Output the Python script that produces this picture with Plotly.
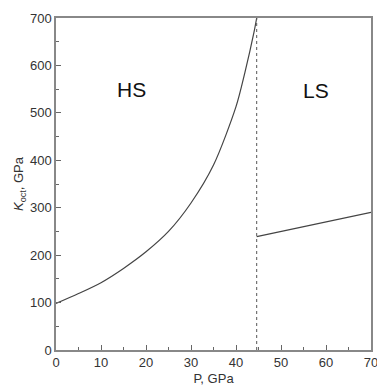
import plotly.graph_objects as go

hs_p = [0, 5, 10, 15, 20, 25, 30, 35, 40, 42, 44, 44.6]
hs_k = [98, 119, 142, 172, 207, 250, 310, 390, 513, 586, 670, 700]
ls_p = [44.6, 70]
ls_k = [239, 290]
p_transition = 44.6
x_ticks = [0, 10, 20, 30, 40, 50, 60, 70]
y_ticks = [0, 100, 200, 300, 400, 500, 600, 700]

fig = go.Figure()
fig.add_trace(go.Scatter(x=hs_p, y=hs_k, mode="lines", line=dict(color="#444", width=1.2, shape="spline", smoothing=0.8), showlegend=False))
fig.add_trace(go.Scatter(x=ls_p, y=ls_k, mode="lines", line=dict(color="#444", width=1.2), showlegend=False))
fig.add_trace(go.Scatter(x=[p_transition, p_transition], y=[0, 700], mode="lines", line=dict(color="#555", width=1, dash="dot"), showlegend=False))

fig.add_annotation(x=16.8, y=550, text="HS", showarrow=False, font=dict(size=21, color="#111", family="Liberation Sans, Arial"))
fig.add_annotation(x=57.8, y=547, text="LS", showarrow=False, font=dict(size=21, color="#111", family="Liberation Sans, Arial"))

axis_common = dict(showline=True, linecolor="#888", linewidth=1.5, mirror=True, ticks="inside", ticklen=5, tickcolor="#666",
                   showgrid=False, zeroline=False, automargin=False, ticklabeloverflow="allow",
                   tickfont=dict(size=13, color="#333", family="Liberation Sans, Arial"))
fig.update_xaxes(range=[0, 70], tickvals=x_ticks, minor=dict(ticks="inside", ticklen=3, dtick=5, tickcolor="#666"),
                 title=dict(text="P, GPa", font=dict(size=13, color="#333", family="Liberation Sans, Arial"), standoff=5), **axis_common)
fig.update_yaxes(range=[0, 700], tickvals=y_ticks, minor=dict(ticks="inside", ticklen=3, dtick=50, tickcolor="#666"),
                 title=dict(text="<i>K</i><sub>oct</sub>, GPa", font=dict(size=13, color="#333", family="Liberation Sans, Arial"), standoff=3), **axis_common)
fig.update_layout(width=377, height=388, margin=dict(l=56, r=6, t=18, b=38), plot_bgcolor="white", paper_bgcolor="white")
fig.write_html("out.html")
